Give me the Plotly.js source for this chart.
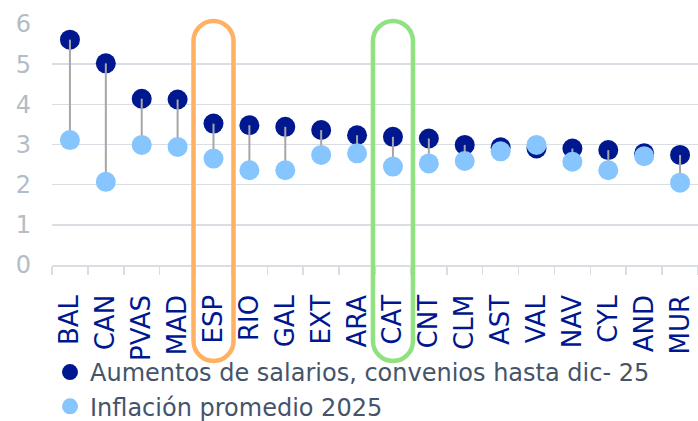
<!DOCTYPE html>
<html>
<head>
<meta charset="utf-8">
<script src="https://cdn.plot.ly/plotly-3.0.1.min.js"></script>
<style>
  html, body { margin: 0; padding: 0; background: #ffffff; }
  #chart { width: 698px; height: 421px; }
</style>
</head>
<body>
<div id="chart"></div>
<script>
// ---- data ----
const categories = ['BAL','CAN','PVAS','MAD','ESP','RIO','GAL','EXT','ARA','CAT','CNT','CLM','AST','VAL','NAV','CYL','AND','MUR'];
const salaryIncrease = [5.61, 5.02, 4.14, 4.12, 3.52, 3.48, 3.44, 3.36, 3.23, 3.19, 3.15, 2.99, 2.93, 2.90, 2.90, 2.86, 2.78, 2.74];
const inflation2025 = [3.11, 2.07, 2.99, 2.94, 2.65, 2.36, 2.36, 2.74, 2.78, 2.45, 2.53, 2.59, 2.83, 2.99, 2.57, 2.36, 2.71, 2.05];
const seriesNames = ['Aumentos de salarios, convenios hasta dic- 25', 'Inflación promedio 2025'];
const highlightedCats = ['ESP', 'CAT'];
const yTicks = [0, 1, 2, 3, 4, 5, 6];

// ---- styles ----
const DARK = '#00188F';
const LIGHT = '#86C5FD';
const GRID = '#D9DEE4';
const FRAME_COLORS = ['#FFB163', '#8FE27F'];
const FONT = 'DejaVu Sans, Liberation Sans, Arial, sans-serif';

// connector from each inflation point up/down to the salary point
const gap = salaryIncrease.map((s, i) => s - inflation2025[i]);
const gapUp = gap.map(d => Math.max(d, 0));
const gapDown = gap.map(d => Math.max(-d, 0));

const traces = [
  {
    type: 'scatter', mode: 'markers', name: seriesNames[0],
    x: categories, y: salaryIncrease,
    marker: {color: DARK, size: 20}, cliponaxis: false
  },
  {
    type: 'scatter', mode: 'markers', name: seriesNames[1],
    x: categories, y: inflation2025,
    marker: {color: LIGHT, size: 20}, cliponaxis: false,
    error_y: {
      type: 'data', symmetric: false,
      array: gapUp, arrayminus: gapDown,
      color: '#A6A6A6', thickness: 2, width: 0
    }
  }
];

// rounded highlight frames (pixel-sized, anchored on the category)
function pill(halfW, topUp, bottomDown) {
  const r = halfW, k = 0.5523 * r;
  const t = topUp, b = -bottomDown;
  return `M ${-halfW},${t - r} C ${-halfW},${t - r + k} ${-k},${t} 0,${t} ` +
         `C ${k},${t} ${halfW},${t - r + k} ${halfW},${t - r} ` +
         `L ${halfW},${b + r} C ${halfW},${b + r - k} ${k},${b} 0,${b} ` +
         `C ${-k},${b} ${-halfW},${b + r - k} ${-halfW},${b + r} Z`;
}
const shapes = highlightedCats.map((cat, i) => ({
  type: 'path', layer: 'above',
  xref: 'x', yref: 'paper',
  xsizemode: 'pixel', ysizemode: 'pixel',
  xanchor: categories.indexOf(cat), yanchor: 0,
  path: pill(20, 244, 96),
  line: {color: FRAME_COLORS[i], width: 4.5},
  fillcolor: 'rgba(0,0,0,0)'
}));

const layout = {
  width: 698, height: 421,
  margin: {l: 52, r: 0, t: 24, b: 156, autoexpand: false},
  paper_bgcolor: '#ffffff', plot_bgcolor: '#ffffff',
  font: {family: FONT},
  showlegend: true,
  legend: {
    orientation: 'v',
    xref: 'paper', yref: 'paper',
    x: -2 / 646, y: -85 / 241, xanchor: 'left', yanchor: 'top',
    font: {family: FONT, size: 24, color: '#44546A'},
    bgcolor: 'rgba(0,0,0,0)', borderwidth: 0,
    tracegroupgap: 0, traceorder: 'normal'
  },
  xaxis: {
    type: 'category',
    categoryorder: 'array', categoryarray: categories,
    range: [-0.5, categories.length - 0.5],
    tickangle: -90,
    tickfont: {family: FONT, size: 26, color: DARK},
    ticks: 'outside', tickson: 'boundaries', ticklen: 8, tickwidth: 1.5, tickcolor: GRID,
    ticklabelstandoff: 18,
    showline: true, linecolor: GRID, linewidth: 1.5,
    showgrid: false, zeroline: false, fixedrange: true, automargin: false
  },
  yaxis: {
    range: [0, 6],
    tickvals: yTicks,
    tickfont: {family: FONT, size: 24, color: '#B4BCC6'},
    ticks: '', ticklabelstandoff: 20,
    showgrid: true, gridcolor: GRID, gridwidth: 1.5,
    zeroline: false, showline: false, fixedrange: true, automargin: false
  },
  shapes: shapes
};

Plotly.newPlot('chart', traces, layout, {displayModeBar: false, staticPlot: true});
</script>
</body>
</html>
